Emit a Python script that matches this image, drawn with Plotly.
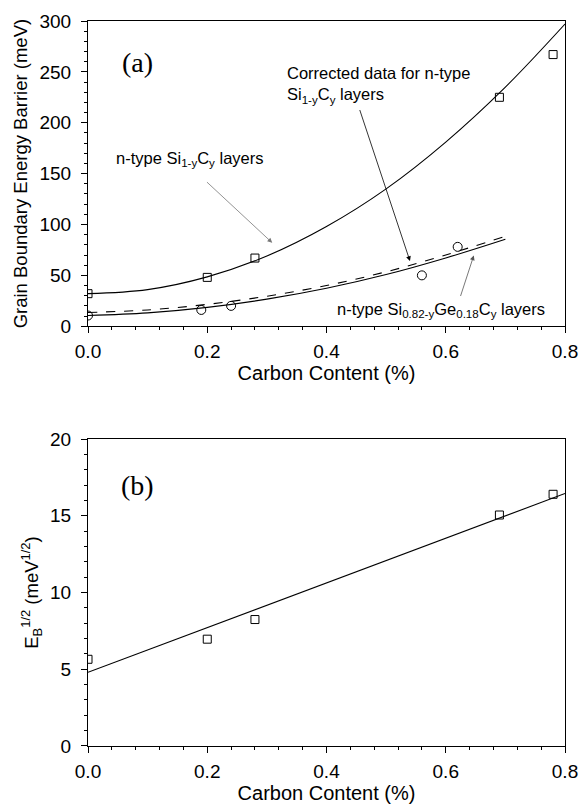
import plotly.graph_objects as go

# ---- Panel (a) data ----
sic_x = [0.0, 0.20, 0.28, 0.69, 0.78]
sic_y = [32, 48, 67, 225, 267]
sigec_x = [0.0, 0.19, 0.24, 0.56, 0.62]
sigec_y = [10.5, 16, 20, 50, 78]

fit_sic_x = [0.0, 0.1, 0.2, 0.3, 0.4, 0.5, 0.6, 0.7, 0.8]
fit_sic_y = [32, 36, 48.5, 69, 98, 135, 181, 235, 297]
fit_sigec_x = [0.0, 0.1, 0.2, 0.3, 0.4, 0.5, 0.6, 0.7]
fit_sigec_y = [10.5, 13.1, 18.5, 26.6, 37.3, 50.8, 67.1, 85.5]
fit_corr_y = [13.5, 16, 21.5, 29.5, 40, 53.5, 70, 88.5]

# ---- Panel (b) data ----
b_x = [0.0, 0.20, 0.28, 0.69, 0.78]
b_y = [5.65, 6.96, 8.24, 15.05, 16.4]
b_fit_x = [0.0, 0.8]
b_fit_y = [4.8, 16.45]

x_ticks = [0.0, 0.2, 0.4, 0.6, 0.8]
x_ticklabels = ["0.0", "0.2", "0.4", "0.6", "0.8"]

fig = go.Figure()

mk_sq = dict(symbol="square-open", size=8, color="black", line=dict(width=1, color="black"))
mk_ci = dict(symbol="circle-open", size=9, color="black", line=dict(width=1, color="black"))

fig.add_trace(go.Scatter(x=fit_sic_x, y=fit_sic_y, mode="lines", line=dict(color="black", width=1.1, shape="spline"), xaxis="x", yaxis="y"))
fig.add_trace(go.Scatter(x=fit_sigec_x, y=fit_sigec_y, mode="lines", line=dict(color="black", width=1.1, shape="spline"), xaxis="x", yaxis="y"))
fig.add_trace(go.Scatter(x=fit_sigec_x, y=fit_corr_y, mode="lines", line=dict(color="black", width=1.1, dash="dash", shape="spline"), xaxis="x", yaxis="y"))
fig.add_trace(go.Scatter(x=sic_x, y=sic_y, mode="markers", marker=mk_sq, xaxis="x", yaxis="y"))
fig.add_trace(go.Scatter(x=sigec_x, y=sigec_y, mode="markers", marker=mk_ci, xaxis="x", yaxis="y"))

fig.add_trace(go.Scatter(x=b_fit_x, y=b_fit_y, mode="lines", line=dict(color="black", width=1.1), xaxis="x2", yaxis="y2"))
fig.add_trace(go.Scatter(x=b_x, y=b_y, mode="markers", marker=mk_sq, xaxis="x2", yaxis="y2"))

tickfont = dict(family="Liberation Sans, Arial", size=19, color="black")
xtitlefont = dict(family="Liberation Sans, Arial", size=20, color="black")
ytitlefont = dict(family="Liberation Sans, Arial", size=18.5, color="black")

def xax(anchor):
    return dict(range=[0, 0.8], tickvals=x_ticks, ticktext=x_ticklabels, ticks="outside", ticklen=6,
                tickwidth=1, tickcolor="black", showline=True, linecolor="black", linewidth=1.2,
                mirror=True, showgrid=False, zeroline=False, tickfont=tickfont, anchor=anchor,
                ticklabelstandoff=2, automargin=False,
                minor=dict(dtick=0.04, tick0=0, ticks="outside", ticklen=3, tickcolor="black"),
                title=dict(text="Carbon Content (%)", font=xtitlefont, standoff=1))

def yax(rng, dt, mdt, title, domain, anchor):
    return dict(range=rng, dtick=dt, ticks="outside", ticklen=6, tickwidth=1, tickcolor="black",
                showline=True, linecolor="black", linewidth=1.2, mirror=True, showgrid=False,
                zeroline=False, tickfont=tickfont, domain=domain, anchor=anchor,
                ticklabelstandoff=6, automargin=False,
                minor=dict(dtick=mdt, ticks="outside", ticklen=3, tickcolor="black"),
                title=dict(text=title, font=ytitlefont, standoff=6))

fig.update_layout(
    width=579, height=808,
    margin=dict(l=88, r=14, t=21, b=62),
    paper_bgcolor="white", plot_bgcolor="white",
    showlegend=False,
    xaxis=xax("y"),
    yaxis=yax([0, 300], 50, 10, "Grain Boundary Energy Barrier (meV)", [0.579, 1.0], "x"),
    xaxis2=xax("y2"),
    yaxis2=yax([0, 20], 5, 1, "E<sub>B</sub><sup>1/2</sup> (meV<sup>1/2</sup>)", [0.0, 0.4234], "x2"),
)

ann_font = dict(family="Liberation Sans, Arial", size=16.5, color="black")
label_font = dict(family="Liberation Serif, Times New Roman", size=28, color="black")

annotations = [
    dict(x=0.083, y=259, xref="x", yref="y", text="(a)", showarrow=False, font=label_font),
    dict(x=0.083, y=17.0, xref="x2", yref="y2", text="(b)", showarrow=False, font=label_font),
    dict(x=0.043, y=164, xref="x", yref="y", text="n-type Si<sub>1-y</sub>C<sub>y</sub> layers",
         showarrow=False, xanchor="left", font=ann_font),
    dict(x=0.331, y=237, xref="x", yref="y",
         text="Corrected data for n-type<br>Si<sub>1-y</sub>C<sub>y</sub> layers",
         showarrow=False, xanchor="left", align="left", font=ann_font),
    dict(x=0.415, y=16.4, xref="x", yref="y",
         text="n-type Si<sub>0.82-y</sub>Ge<sub>0.18</sub>C<sub>y</sub> layers",
         showarrow=False, xanchor="left", font=ann_font),
    # arrows
    dict(x=0.309, y=82, ax=0.197, ay=143, xref="x", yref="y", axref="x", ayref="y", text="",
         showarrow=True, arrowhead=2, arrowsize=1.2, arrowwidth=0.8, arrowcolor="#777777"),
    dict(x=0.540, y=64, ax=0.455, ay=214, xref="x", yref="y", axref="x", ayref="y", text="",
         showarrow=True, arrowhead=2, arrowsize=1.2, arrowwidth=0.8, arrowcolor="black"),
    dict(x=0.647, y=69.5, ax=0.624, ay=28.2, xref="x", yref="y", axref="x", ayref="y", text="",
         showarrow=True, arrowhead=2, arrowsize=1.2, arrowwidth=0.8, arrowcolor="#555555"),
]
fig.update_layout(annotations=annotations)

fig.write_html("out.html")
